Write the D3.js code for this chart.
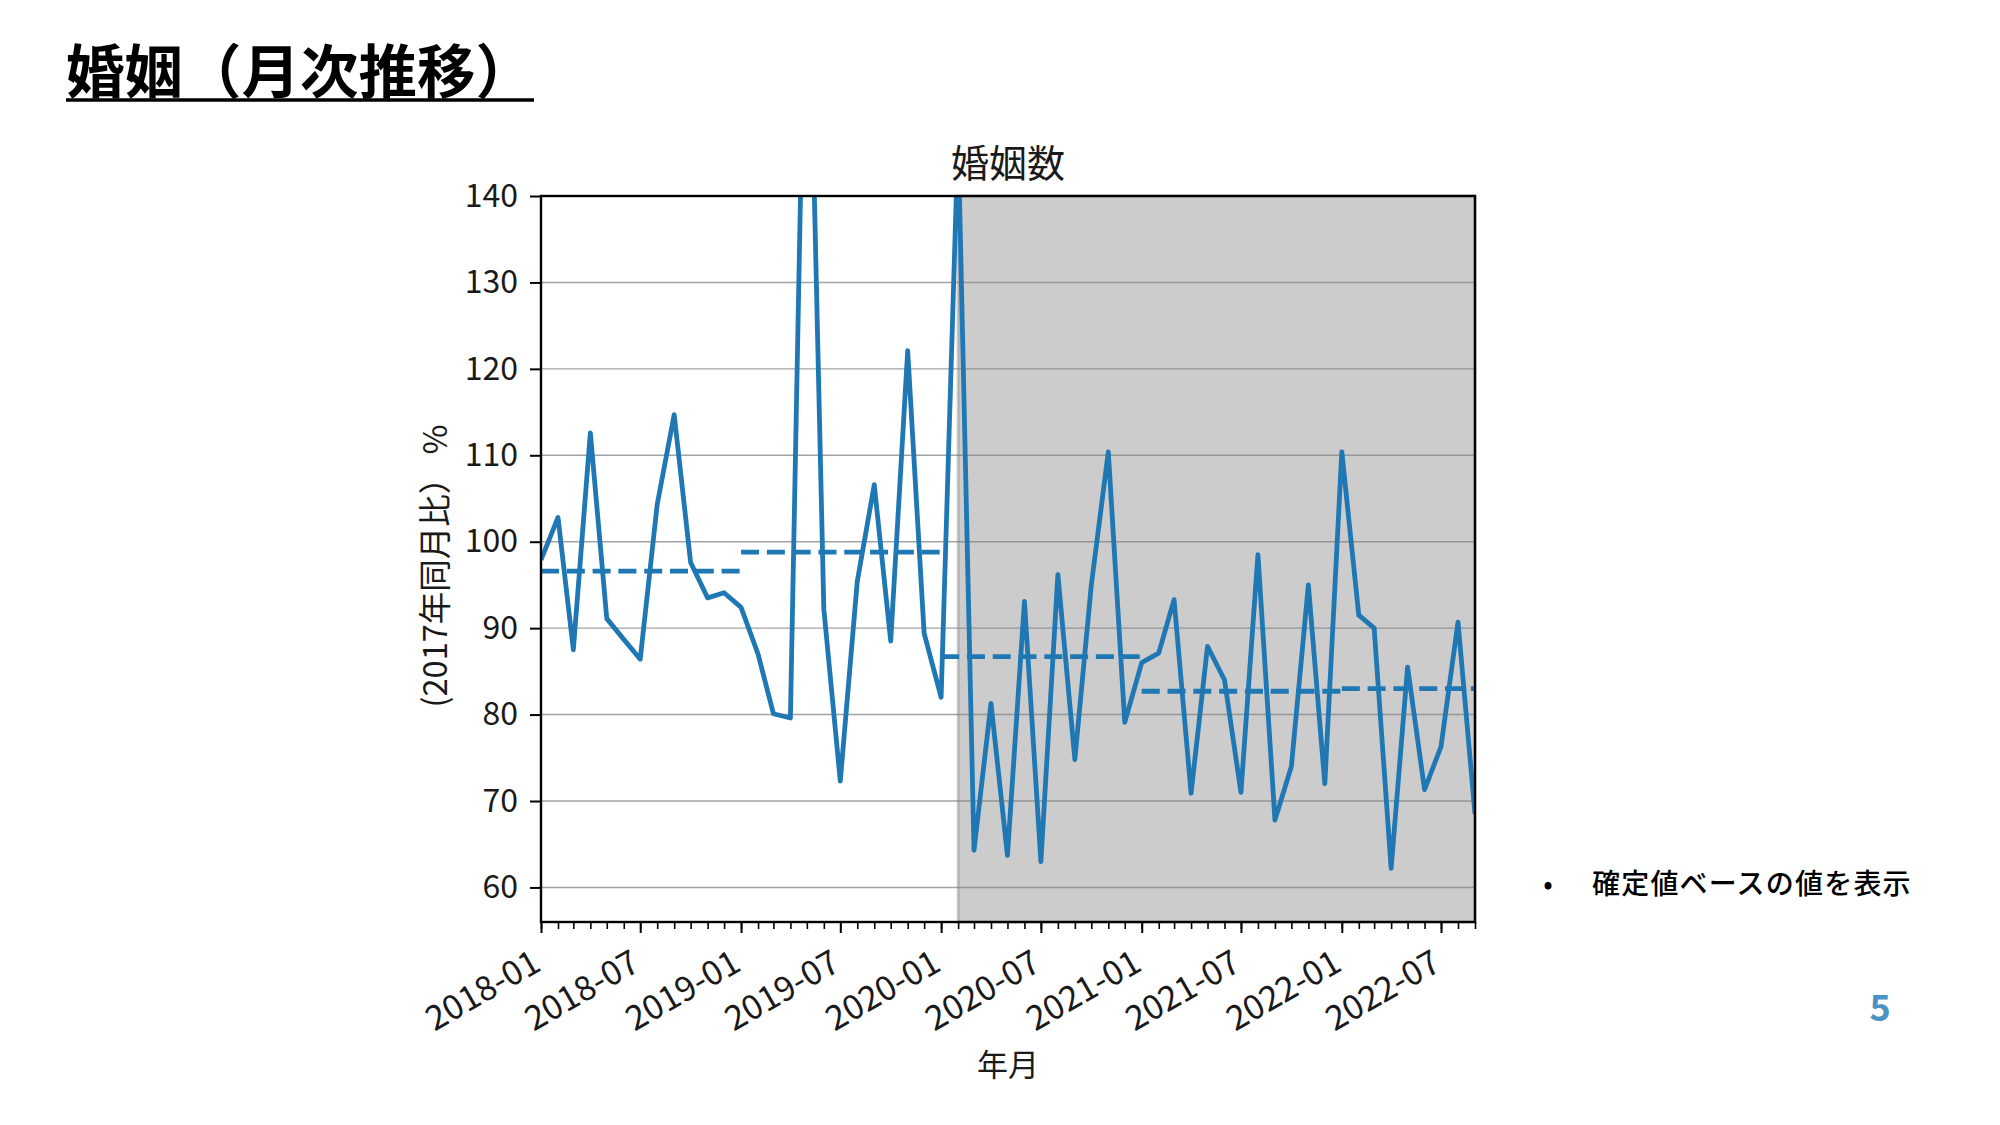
<!DOCTYPE html>
<html>
<head>
<meta charset="utf-8">
<script src="https://cdn.jsdelivr.net/npm/d3@7"></script>
<style>
  html, body { margin: 0; padding: 0; background: #ffffff; }
  svg { display: block; }
  text { font-family: "Noto Sans CJK JP", "Noto Sans", sans-serif; }
</style>
</head>
<body>
<svg id="chart" width="2000" height="1125"></svg>
<script>
// ---- data ----
const startMonth = "2018-01";
const monthlyValues = [
  97.9, 102.8, 87.5, 112.6, 91.1, 88.7, 86.4, 104.3, 114.7, 97.6, 93.5, 94.1,   // 2018
  92.4, 87.0, 80.1, 79.6, 178.0, 92.2, 72.3, 95.4, 106.6, 88.5, 122.1, 89.4,   // 2019
  82.0, 147.0, 64.3, 81.3, 63.7, 93.1, 63.0, 96.2, 74.8, 95.0, 110.4, 79.1,    // 2020
  86.0, 87.1, 93.3, 70.9, 87.9, 84.0, 71.0, 98.5, 67.8, 74.0, 95.0, 72.0,      // 2021
  110.4, 91.5, 90.0, 62.2, 85.5, 71.3, 76.3, 90.7, 68.5                        // 2022
];
const annualYears = [2018, 2019, 2020, 2021, 2022];
const annualValues = [96.6, 98.8, 86.7, 82.7, 83.0];
const shadeStart = "2020-02";
const yTicks = [60, 70, 80, 90, 100, 110, 120, 130, 140];
const xTickLabels = ["2018-01","2018-07","2019-01","2019-07","2020-01","2020-07","2021-01","2021-07","2022-01","2022-07"];
const yDomain = [56, 140];
const xEnd = "2022-09";

const pageTitle = "婚姻（月次推移）";
const chartTitle = "婚姻数";
const yLabel = "(2017年同月比） %";
const xLabel = "年月";
const noteText = "確定値ベースの値を表示";
const pageNumber = "5";

// ---- build ----
const parseM = d3.timeParse("%Y-%m");
const t0 = parseM(startMonth);
const series = monthlyValues.map((v, i) => ({ date: d3.timeMonth.offset(t0, i), value: v }));

const svg = d3.select("#chart");
const L = 541, R = 1475, T = 196, B = 922;

const x = d3.scaleTime().domain([t0, parseM(xEnd)]).range([L, R]);
const y = d3.scaleLinear().domain(yDomain).range([B, T]);

svg.append("defs").append("clipPath").attr("id", "plotclip")
  .append("rect").attr("x", L).attr("y", T).attr("width", R - L).attr("height", B - T);

// grid
svg.append("g").selectAll("line").data(yTicks).join("line")
  .attr("x1", L).attr("x2", R)
  .attr("y1", d => y(d)).attr("y2", d => y(d))
  .attr("stroke", "#a3a3a3").attr("stroke-width", 1.4);

// shaded span
const sx = x(parseM(shadeStart));
svg.append("rect")
  .attr("x", sx).attr("y", T).attr("width", R - sx).attr("height", B - T)
  .attr("fill", "rgba(128,128,128,0.4)")
  .attr("stroke", "rgba(128,128,128,0.4)").attr("stroke-width", 3);

const plot = svg.append("g").attr("clip-path", "url(#plotclip)");

// annual dashed lines
plot.selectAll("line.annual").data(annualYears.map((yr, i) => ({ yr, v: annualValues[i] }))).join("line")
  .attr("class", "annual")
  .attr("x1", d => x(new Date(d.yr, 0, 1)))
  .attr("x2", d => x(new Date(d.yr + 1, 0, 1)))
  .attr("y1", d => y(d.v)).attr("y2", d => y(d.v))
  .attr("stroke", "#1f77b4").attr("stroke-width", 4.8)
  .attr("stroke-dasharray", "18,7.8");

// monthly line
const line = d3.line().x(d => x(d.date)).y(d => y(d.value));
plot.append("path").datum(series)
  .attr("d", line)
  .attr("fill", "none")
  .attr("stroke", "#1f77b4").attr("stroke-width", 4.8)
  .attr("stroke-linejoin", "round").attr("stroke-linecap", "butt");

// axes
const yAxis = d3.axisLeft(y).tickValues(yTicks).tickSize(11).tickPadding(12);
const gy = svg.append("g").attr("transform", `translate(${L},0)`).call(yAxis);
gy.select(".domain").remove();
gy.selectAll(".tick line").attr("stroke", "#000").attr("stroke-width", 2);
gy.selectAll(".tick text").attr("font-size", 32).attr("fill", "#1a1a1a")
  .attr("font-family", "Noto Sans CJK JP");

// minor x ticks (monthly)
const minorDates = d3.timeMonth.range(t0, d3.timeMonth.offset(parseM(xEnd), 1));
const xMinor = d3.axisBottom(x).tickValues(minorDates).tickSize(7).tickFormat("");
const gxm = svg.append("g").attr("transform", `translate(0,${B})`).call(xMinor);
gxm.select(".domain").remove();
gxm.selectAll(".tick line").attr("stroke", "#000").attr("stroke-width", 1.6);

const majorDates = xTickLabels.map(parseM);
const fmt = d3.timeFormat("%Y-%m");
const xMajor = d3.axisBottom(x).tickValues(majorDates).tickSize(11).tickFormat(fmt);
const gx = svg.append("g").attr("transform", `translate(0,${B})`).call(xMajor);
gx.select(".domain").remove();
gx.selectAll(".tick line").attr("stroke", "#000").attr("stroke-width", 2);
gx.selectAll(".tick text")
  .attr("font-size", 34).attr("fill", "#1a1a1a")
  .attr("text-anchor", "end")
  .attr("y", 0).attr("dy", "0.72em")
  .attr("transform", "translate(-11,26) rotate(-30)");

// spines
svg.append("rect").attr("x", L).attr("y", T).attr("width", R - L).attr("height", B - T)
  .attr("fill", "none").attr("stroke", "#000").attr("stroke-width", 2.4);

// chart title and labels
svg.append("text").attr("x", (L + R) / 2).attr("y", 177)
  .attr("text-anchor", "middle").attr("font-size", 38).attr("fill", "#1a1a1a")
  .text(chartTitle);

svg.append("text").attr("x", (L + R) / 2).attr("y", 1076)
  .attr("text-anchor", "middle").attr("font-size", 31).attr("fill", "#1a1a1a")
  .text(xLabel);

svg.append("text")
  .attr("transform", `translate(432,566) rotate(-90)`)
  .attr("text-anchor", "middle").attr("dominant-baseline", "central")
  .attr("font-size", 32.5).attr("fill", "#1a1a1a")
  .text(yLabel);

// page title with underline
const pt = svg.append("text").attr("x", 66).attr("y", 93)
  .attr("font-size", 58.5).attr("font-weight", "bold").attr("fill", "#000")
  .text(pageTitle);
const ptw = pt.node().getComputedTextLength();
svg.append("line").attr("x1", 66).attr("x2", 66 + ptw).attr("y1", 100).attr("y2", 100)
  .attr("stroke", "#000").attr("stroke-width", 3.5);

// note
svg.append("text").attr("x", 1548).attr("y", 894).attr("text-anchor", "middle")
  .attr("font-size", 28).attr("fill", "#000").text("•");
svg.append("text").attr("x", 1592).attr("y", 894)
  .attr("font-size", 28).attr("font-weight", 500).attr("letter-spacing", 1.2).attr("fill", "#000")
  .text(noteText);

// page number
svg.append("text").attr("x", 1880).attr("y", 1021).attr("text-anchor", "middle")
  .attr("font-size", 36).attr("font-weight", "bold").attr("fill", "#4a93c4")
  .attr("font-family", "Open Sans, sans-serif")
  .text(pageNumber);
</script>
</body>
</html>
